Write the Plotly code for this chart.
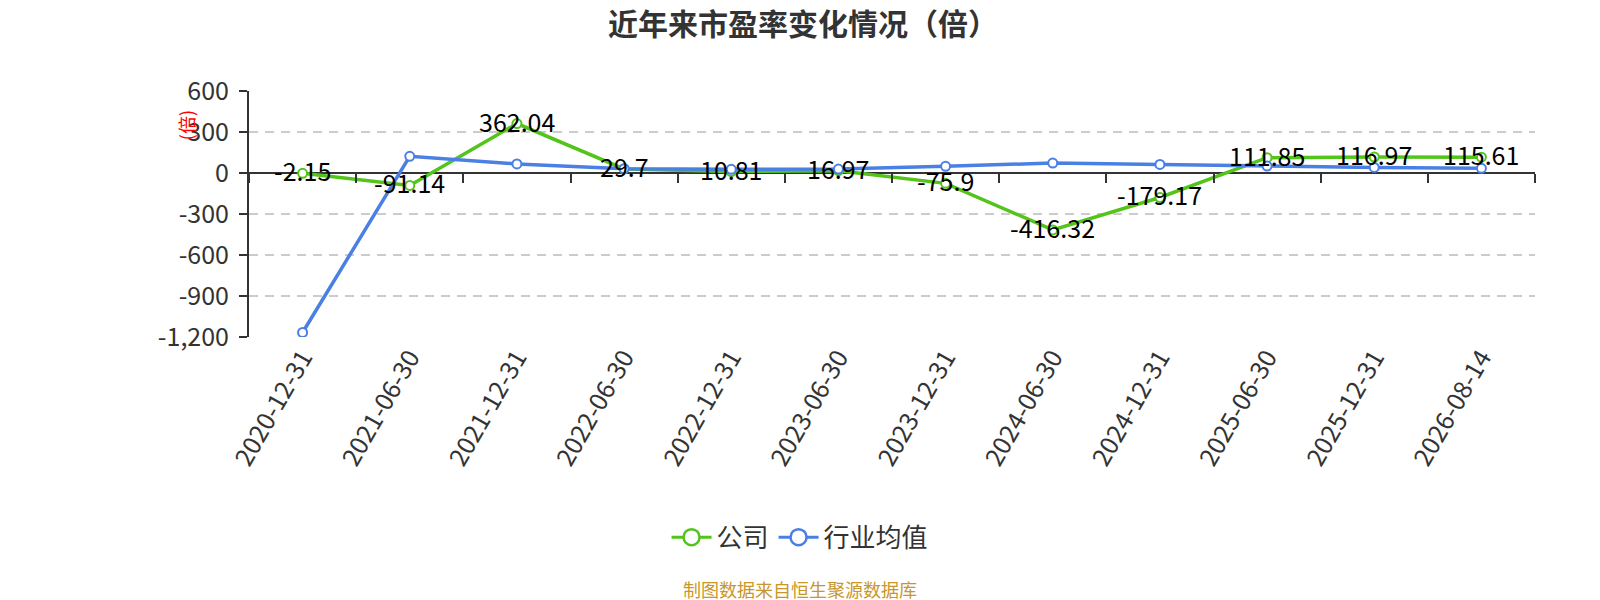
import plotly.graph_objects as go

# 市盈率数据（倍）
dates = ["2020-12-31", "2021-06-30", "2021-12-31", "2022-06-30", "2022-12-31", "2023-06-30",
         "2023-12-31", "2024-06-30", "2024-12-31", "2025-06-30", "2025-12-31", "2026-08-14"]
company_pe = [-2.15, -91.14, 362.04, 29.7, 10.81, 16.97, -75.9, -416.32, -179.17, 111.85, 116.97, 115.61]
industry_pe = [-1167, 122, 66, 32, 27, 29, 49, 73, 63, 51, 41, 34]

y_tickvals = [-1200, -900, -600, -300, 0, 300, 600]
y_ticktext = ["-1,200", "-900", "-600", "-300", "0", "300", "600"]

green = "#52c41a"
blue = "#4a7fe3"
font_family = "Noto Sans CJK SC, Noto Sans, sans-serif"

fig = go.Figure()

fig.add_trace(
    go.Scatter(
        x=dates,
        y=company_pe,
        name="公司",
        mode="lines+markers",
        line=dict(color=green, width=3.5),
        marker=dict(symbol="circle", size=9, color="#ffffff", line=dict(color=green, width=2)),
        showlegend=False,
        hoverinfo="x+y")
)

fig.add_trace(
    go.Scatter(
        x=dates,
        y=industry_pe,
        name="行业均值",
        mode="lines+markers",
        line=dict(color=blue, width=3.5),
        marker=dict(symbol="circle", size=9, color="#ffffff", line=dict(color=blue, width=2)),
        showlegend=False,
        hoverinfo="x+y")
)

# 公司数据标签
for d, v in zip(dates, company_pe):
    fig.add_annotation(
        x=d, y=v, text=str(v),
        showarrow=False,
        yshift=3,
        font=dict(size=25, color="#000000", family=font_family))

# 图例（用更大的空心圆）
for name, color in [("公司", green), ("行业均值", blue)]:
    fig.add_trace(
        go.Scatter(
            x=[None], y=[None],
            name=name,
            mode="lines+markers",
            line=dict(color=color, width=3),
            marker=dict(symbol="circle", size=16, color="#ffffff", line=dict(color=color, width=2.5)),
            hoverinfo="skip")
    )

# 零线上的刻度（刻度在类目边界）
fig.add_trace(
    go.Scatter(
        x=dates,
        y=company_pe,
        xaxis="x2",
        mode="none",
        showlegend=False,
        hoverinfo="skip")
)

zero_pos = (0 - y_tickvals[0]) / (y_tickvals[-1] - y_tickvals[0])
x_range = [-0.5, len(dates) - 0.5]

fig.update_layout(
    width=1592,
    height=592,
    paper_bgcolor="#ffffff",
    plot_bgcolor="#ffffff",
    margin=dict(l=241, r=65, t=83, b=263),
    font=dict(family=font_family, color="#333333"),
    title=dict(
        text="<b>近年来市盈率变化情况（倍）</b>",
        x=795 / 1592, xanchor="center",
        y=1 - 16 / 592, yref="container", yanchor="middle",
        font=dict(size=30, color="#333333", family=font_family)),
    xaxis=dict(
        type="category",
        range=x_range,
        showline=False,
        ticks="",
        showgrid=False,
        tickangle=-60,
        tickfont=dict(size=25, color="#333333"),
        anchor="y"),
    xaxis2=dict(
        type="category",
        range=x_range,
        overlaying="x",
        anchor="free",
        position=zero_pos,
        showline=False,
        ticks="outside",
        tickson="boundaries",
        ticklen=9,
        tickwidth=2,
        tickcolor="#333333",
        showticklabels=False,
        showgrid=False),
    yaxis=dict(
        range=[y_tickvals[0], y_tickvals[-1]],
        tickvals=y_tickvals,
        ticktext=y_ticktext,
        showline=True,
        linecolor="#333333",
        linewidth=2,
        ticks="outside",
        ticklen=8,
        tickwidth=2,
        tickcolor="#333333",
        ticklabelstandoff=5,
        tickfont=dict(size=25, color="#333333"),
        showgrid=True,
        gridcolor="#cccccc",
        gridwidth=1.5,
        griddash="9px,7px",
        zeroline=True,
        zerolinecolor="#333333",
        zerolinewidth=2),
    legend=dict(
        orientation="h",
        x=0.4285, xanchor="center",
        y=-0.814, yanchor="middle",
        font=dict(size=26, color="#333333"),
        itemwidth=40),
    showlegend=True,
)

fig.add_annotation(
    text="(倍)",
    xref="paper", yref="paper",
    x=-0.0484, y=0.86,
    xanchor="center", yanchor="middle",
    textangle=-90,
    showarrow=False,
    font=dict(size=18, color="#ff0000"))

fig.add_annotation(
    text="制图数据来自恒生聚源数据库",
    xref="paper", yref="paper",
    x=0.4285, y=-1.0256,
    xanchor="center", yanchor="middle",
    showarrow=False,
    font=dict(size=18, color="#c9962b"))

fig.write_html("out.html")
